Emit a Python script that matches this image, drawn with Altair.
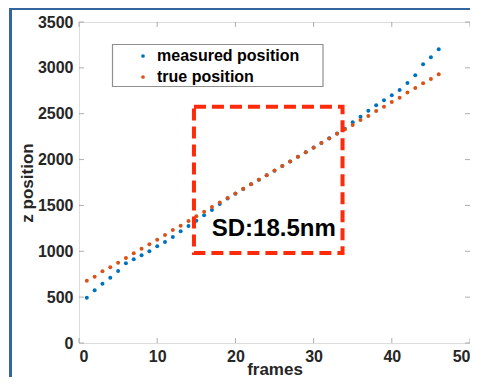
import altair as alt
import pandas as pd

frames = list(range(1, 47))
measured = [494, 575, 647, 712, 785, 869, 913, 956, 1000, 1054,
            1101, 1156, 1218, 1276, 1334, 1393, 1450, 1515, 1575, 1628,
            1679, 1730, 1779, 1829, 1879, 1929, 1979, 2030, 2080, 2131,
            2182, 2233, 2285, 2337, 2407, 2468, 2533, 2592, 2647, 2701,
            2759, 2835, 2919, 3039, 3115, 3203]
true_pos = [680, 723, 782, 826, 876, 927, 978, 1028, 1076, 1127,
            1178, 1232, 1279, 1330, 1381, 1432, 1482, 1532, 1582, 1631,
            1681, 1731, 1780, 1830, 1880, 1930, 1980, 2030, 2080, 2130,
            2180, 2230, 2282, 2330, 2377, 2432, 2475, 2530, 2577, 2628,
            2675, 2730, 2781, 2832, 2879, 2930]
series_names = ["measured position", "true position"]
series_colors = ["#0072BD", "#D95319"]
x_ticks = [0, 10, 20, 30, 40, 50]
y_ticks = [0, 500, 1000, 1500, 2000, 2500, 3000, 3500]
box_x = [14.7, 33.7]
box_y = [980, 2575]
annotation = "SD:18.5nm"
annot_x = 24.9
annot_y = 1243

W, H = 391, 321
FONT = "Liberation Sans"

df = pd.DataFrame({
    "frame": frames * 2,
    "z": measured + true_pos,
    "series": [series_names[0]] * len(frames) + [series_names[1]] * len(frames),
})

xs = alt.Scale(domain=[0, 50], nice=False)
ys = alt.Scale(domain=[0, 3500], nice=False)

xaxis = alt.Axis(values=x_ticks, title="frames", grid=False, domain=False, ticks=False,
                 format="d",
                 labelFont=FONT, labelFontSize=16, labelFontWeight="bold", labelColor="#262626",
                 labelPadding=5, titleFont=FONT, titleFontSize=17, titleFontWeight="bold",
                 titleColor="#262626", titleBaseline="alphabetic", titleY=31)
yaxis = alt.Axis(values=y_ticks, title="z position", grid=False, domain=False, ticks=False,
                 format="d",
                 labelFont=FONT, labelFontSize=16, labelFontWeight="bold", labelColor="#262626",
                 labelPadding=6, titleFont=FONT, titleFontSize=17, titleFontWeight="bold",
                 titleColor="#262626", titleAngle=270, titleBaseline="middle",
                 titleX=-52, titleY=H / 2)

points = alt.Chart(df).mark_circle(size=16, opacity=1).encode(
    x=alt.X("frame:Q", scale=xs, axis=xaxis),
    y=alt.Y("z:Q", scale=ys, axis=yaxis),
    color=alt.Color("series:N", scale=alt.Scale(domain=series_names, range=series_colors),
                    legend=alt.Legend(title=None, orient="none", legendX=33, legendY=22,
                                      padding=4, strokeColor="transparent",
                                      symbolType="circle", symbolSize=14, symbolOffset=19,
                                      labelFont=FONT, labelFontSize=16, labelFontWeight="bold",
                                      labelColor="black", labelOffset=6, rowPadding=5,
                                      labelLimit=400)),
)

# legend frame, drawn as its own mark behind the legend entries
legend_box = alt.Chart(pd.DataFrame({"v": [0]})).mark_rect(
    fill="white", stroke="#8f8f8f", strokeWidth=1.2).encode(
    x=alt.value(33.5), x2=alt.value(244), y=alt.value(22.5), y2=alt.value(64.5))

xt = pd.DataFrame({"v": x_ticks})
yt = pd.DataFrame({"v": y_ticks})
tick_color = "#8c8c8c"
xt_bottom = alt.Chart(xt).mark_tick(orient="vertical", size=5, thickness=1, color=tick_color).encode(
    x=alt.X("v:Q", scale=xs), y=alt.value(H - 2.5))
xt_top = alt.Chart(xt).mark_tick(orient="vertical", size=5, thickness=1, color=tick_color).encode(
    x=alt.X("v:Q", scale=xs), y=alt.value(2.5))
yt_left = alt.Chart(yt).mark_tick(orient="horizontal", size=5, thickness=1, color=tick_color).encode(
    y=alt.Y("v:Q", scale=ys), x=alt.value(2.5))
yt_right = alt.Chart(yt).mark_tick(orient="horizontal", size=5, thickness=1, color=tick_color).encode(
    y=alt.Y("v:Q", scale=ys), x=alt.value(W - 2.5))

box_df = pd.DataFrame({"x1": [box_x[0]], "x2": [box_x[1]], "y1": [box_y[0]], "y2": [box_y[1]]})
box = alt.Chart(box_df).mark_rect(fill=None, stroke="#ff2a0a", strokeWidth=4, strokeDash=[12, 6]).encode(
    x=alt.X("x1:Q", scale=xs), x2="x2:Q", y=alt.Y("y1:Q", scale=ys), y2="y2:Q")

txt_df = pd.DataFrame({"x": [annot_x], "y": [annot_y], "t": [annotation]})
txt = alt.Chart(txt_df).mark_text(font=FONT, fontSize=24, fontWeight="bold", color="black",
                                  align="center", baseline="middle").encode(
    x=alt.X("x:Q", scale=xs), y=alt.Y("y:Q", scale=ys), text="t:N")

border_color = "#36649e"
border_left = alt.Chart(xt).mark_rule(color=border_color, strokeWidth=3).encode(
    x=alt.value(-68.5), y=alt.value(-13.5), y2=alt.value(370))
border_top = alt.Chart(xt).mark_rule(color=border_color, strokeWidth=3).encode(
    x=alt.value(-70), x2=alt.value(405), y=alt.value(-13.5))

chart = alt.layer(
    border_left, border_top, legend_box, xt_bottom, xt_top, yt_left, yt_right, points, box, txt
).properties(
    width=W, height=H,
    autosize=alt.AutoSizeParams(type="none"),
    padding={"left": 71, "top": 14, "right": 0, "bottom": 34},
).configure_view(stroke="#a6a6a6", strokeWidth=1).configure(background="white")

chart.save("out.html", embed_options={"renderer": "svg", "actions": False})
